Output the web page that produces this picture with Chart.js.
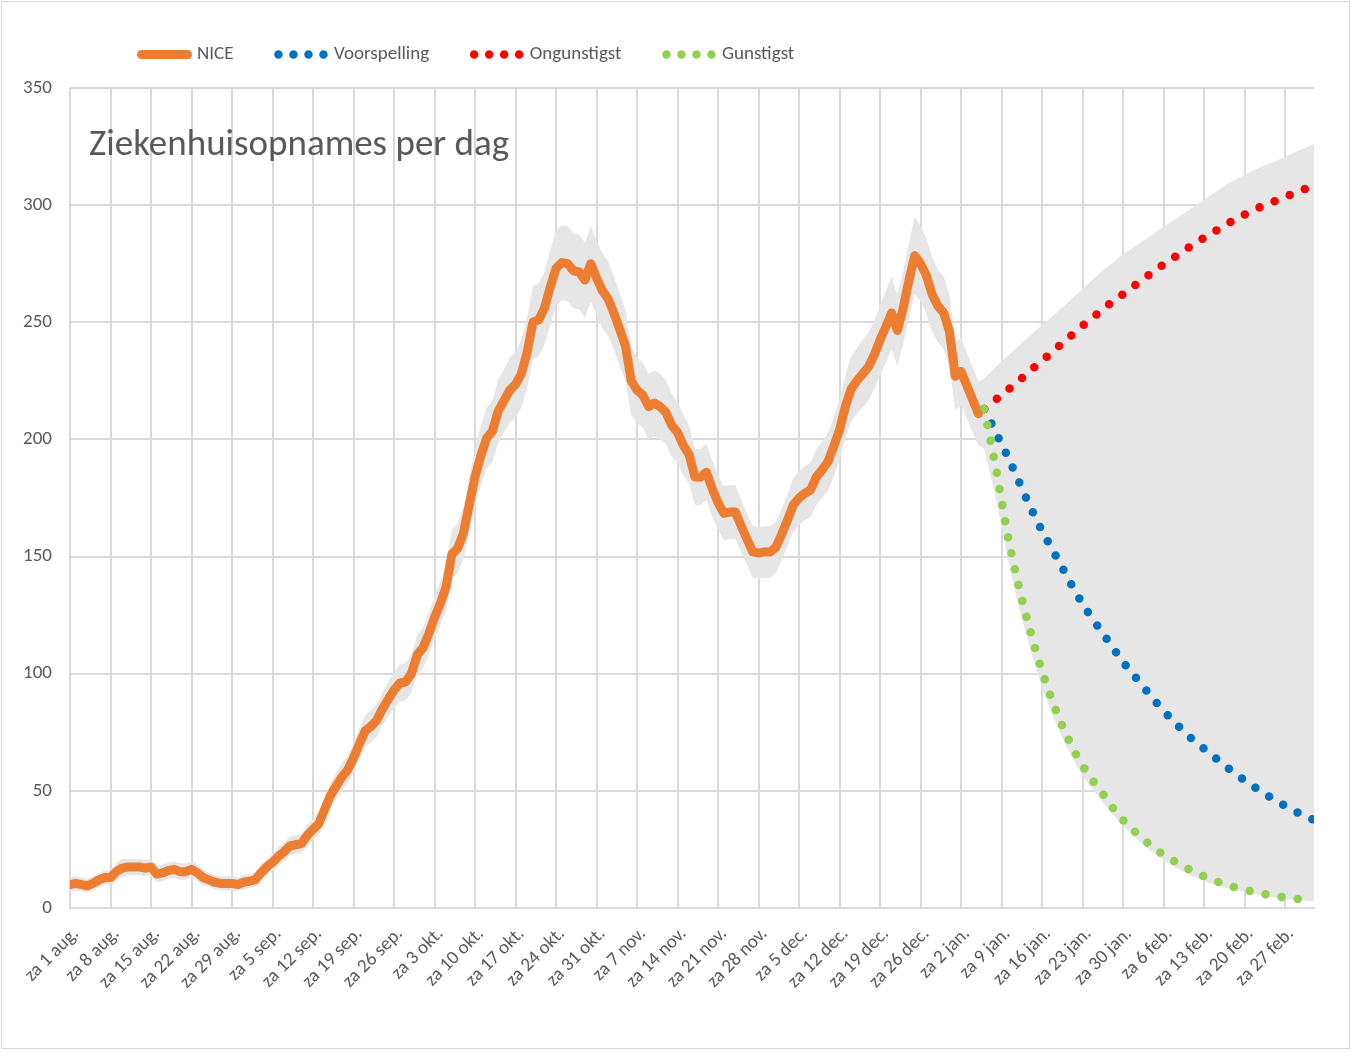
<!DOCTYPE html>
<html><head><meta charset="utf-8">
<script src="https://cdn.jsdelivr.net/npm/chart.js@4.4.0/dist/chart.umd.min.js"></script>
<style>
html,body{margin:0;padding:0;background:#fff;}
#wrap{position:absolute;left:0;top:0;width:1352px;height:1052px;}
#frame{position:absolute;left:1px;top:1px;width:1347px;height:1046px;border:1px solid #d9d9d9;pointer-events:none;}
</style></head><body>
<div id="wrap"><canvas id="c"></canvas></div><div id="frame"></div>
<script>
const chartTitle = 'Ziekenhuisopnames per dag';
const seriesNames = ['NICE', 'Voorspelling', 'Ongunstigst', 'Gunstigst'];
const weekLabels = ['za 1 aug.','za 8 aug.','za 15 aug.','za 22 aug.','za 29 aug.','za 5 sep.','za 12 sep.','za 19 sep.','za 26 sep.','za 3 okt.','za 10 okt.','za 17 okt.','za 24 okt.','za 31 okt.','za 7 nov.','za 14 nov.','za 21 nov.','za 28 nov.','za 5 dec.','za 12 dec.','za 19 dec.','za 26 dec.','za 2 jan.','za 9 jan.','za 16 jan.','za 23 jan.','za 30 jan.','za 6 feb.','za 13 feb.','za 20 feb.','za 27 feb.'];
const yTicks = [0, 50, 100, 150, 200, 250, 300, 350];

// NICE daily values, day 0 = za 1 aug.
const niceValues = [
10,10.5,10,9.5,10.5,12,13,13,15.5,17,
17.5,17.5,17.5,17,17.5,14.5,15,16,16.5,15.5,
15.5,16.5,15,13,12,11,10.5,10.5,10.5,10,
11,11.5,12,15,17.5,19.5,22,24,26.5,27,
27.5,31,33.5,36,42,48,52,56,59,64,
70,75.5,77.5,80,85,89,93,96,96.5,100,
108,111,117,124,130,137,151,153.5,160,172,
184,193,200.5,203.5,212,216.5,221,223.5,228,237,
250,251,256,265,273,275.5,275,272,271.5,268,
275,269,263.5,260,254,247,240,225,221,219,
214,215.5,214,211.5,206,203,197.5,193.5,184,184,
186,179,173,168.5,169,169,163,157.5,152,151.5,
152,152,154,159.5,165.5,172,175,177,178.5,184,
187,190.5,197,204,214,221.5,225,228,231,236,
242.5,248,254,246.5,256,268,278.5,275,270,262,
257,254,246,227,229,223,217,211
];
const niceBandUpper = [
13,13.5,13,12.5,13.5,15,16,16,19,21,
21,21,21,20.5,21,18,18.5,19.5,20,19,
19,20,18.5,16.5,15,14,13.5,13.5,13.5,13,
14,14.5,15,18.5,21,23,26,28,30.5,31,
31.5,35.5,38,41,47,53.5,57.5,62,65,70,
76.5,82,84.5,87,92,96.5,100.5,104,104.5,108,
116.5,119.5,126,133,139.5,147,161.5,164,171,183.5,
196,205.5,213.5,216.5,225.5,230,235,237.5,242.5,252,
265.5,266.5,271.5,281,289,291.5,291,288,287.5,284,
291,285,279.5,276,269.5,262.5,255,239.5,235,233,
228,229.5,228,225,219.5,216,210.5,206,196,196,
198,191,184.5,180,180.5,180.5,174,168.5,163,162.5,
163,163,165,170.5,176.5,183.5,186.5,188.5,190,196,
199,203,209.5,217,227.5,235.5,239,242.5,245.5,250.5,
257.5,263.5,269.5,261.5,271.5,284,295,291,286,278,
272.5,269.5,261.5,241.5,243.5,237,231,224.5
];
const niceBandLower = [
7,7.5,7,6.5,7.5,9,10,10,12,13,
14,14,14,13.5,14,11,11.5,12.5,13,12,
12,13,11.5,9.5,9,8,7.5,7.5,7.5,7,
8,8.5,9,11.5,14,16,18,20,22.5,23,
23.5,26.5,29,31,37,42.5,46.5,50,53,58,
63.5,69,70.5,73,78,81.5,85.5,88,88.5,92,
99.5,102.5,108,115,120.5,127,140.5,143,149,160.5,
172,180.5,187.5,190.5,198.5,203,207,209.5,213.5,222,
234.5,235.5,240.5,249,257,259.5,259,256,255.5,252,
259,253,247.5,244,238.5,231.5,225,210.5,207,205,
200,201.5,200,198,192.5,190,184.5,181,172,172,
174,167,161.5,157,157.5,157.5,152,146.5,141,140.5,
141,141,143,148.5,154.5,160.5,163.5,165.5,167,172,
175,178,184.5,191,200.5,207.5,211,213.5,216.5,221.5,
227.5,232.5,238.5,231.5,240.5,252,262,259,254,246,
241.5,238.5,230.5,212.5,214.5,209,203,197.5
];

// forecasts (day numbers since za 1 aug.)
const forecastDays   = [158,160,162,164,166,168,170,172,174,176,178,180,182,185,188,191,194,197,200,203,206,209,212,215];
const voorspelling   = [213,203,193,182,171,161,152,143,134,126,119,112,105,96,87,79,72,66,60,54.5,49.5,45,41,37.5];
const ongunstigst    = [213,217,221,225,229.5,233.5,238,242,246.5,250.5,254.5,258.5,262,267.5,273,278,283,287.5,292,296,299.5,302.5,305.5,308.5];
const gunstigst      = [213,188,160,137,118,101,87,75,65,57,50.5,43.5,37.5,30.5,24.5,19.8,15.8,12.5,9.8,7.8,6.2,4.9,3.9,3.2];
const bandUpperF     = [226,231,235.5,240,244.5,249,253,257.5,262,266.5,271,275,279,284,289,294,299,304,309,313,316.5,319.5,323,326];
const bandLowerF     = [196,175,150,128,110,94,81,70,60.5,53,46.5,40.5,35,28,22,17.3,13.5,10.6,8.4,6.7,5.3,4.2,3.4,2.9];

const FONT = 'Carlito, Lato, "Liberation Sans", sans-serif';
const TEXT = '#595959';
const GRID = '#d9d9d9';
const FS = 19;
const LEG_PAD = 45;

const toPts = (days, vals) => vals.map((v, i) => ({x: days ? days[i] : i, y: v}));
const bandHi = toPts(null, niceBandUpper).concat(toPts(forecastDays, bandUpperF));
const bandLo = toPts(null, niceBandLower).concat(toPts(forecastDays, bandLowerF));

const dotted = (label, vals, color, order) => ({
  label, data: toPts(forecastDays, vals), borderColor: color, backgroundColor: color,
  borderWidth: 8.5, borderDash: [0, 16.3], borderCapStyle: 'round', borderJoinStyle: 'round',
  pointRadius: 0, cubicInterpolationMode: 'monotone', tension: 0.4, fill: false, order
});

const titlePlugin = {
  id: 'innerTitle',
  afterDraw(chart) {
    const ctx = chart.ctx;
    ctx.save();
    ctx.font = '37px ' + FONT;
    ctx.fillStyle = TEXT;
    ctx.textBaseline = 'middle';
    ctx.textAlign = 'left';
    ctx.fillText(chartTitle, chart.chartArea.left + 19, chart.chartArea.top + 58);
    ctx.restore();
  }
};
const legendShift = {
  id: 'legendShift',
  afterLayout(chart) {
    const l = chart.legend;
    if (!l) return;
    l.left += 96.5; l.right += 96.5;
    const dy = (54.5 - LEG_PAD - FS / 2) - l.top;
    l.top += dy;
    l.bottom = l.top + 86;
    l.height = 86;
  }
};

new Chart(document.getElementById('c'), {
  type: 'line',
  data: {
    datasets: [
      { label: seriesNames[0], data: toPts(null, niceValues), borderColor: '#ED7D31', backgroundColor: '#ED7D31',
        borderWidth: 9, borderCapStyle: 'round', borderJoinStyle: 'round', pointRadius: 0, tension: 0, fill: false, order: 3 },
      dotted(seriesNames[1], voorspelling, '#0070C0', 2),
      dotted(seriesNames[2], ongunstigst, '#FF0000', 1),
      dotted(seriesNames[3], gunstigst, '#92D050', 0),
      { label: 'band-hi', data: bandHi, borderWidth: 0, pointRadius: 0, fill: '+1', backgroundColor: '#e6e6e6', borderColor: 'rgba(0,0,0,0)', tension: 0, order: 10 },
      { label: 'band-lo', data: bandLo, borderWidth: 0, pointRadius: 0, fill: false, backgroundColor: '#e6e6e6', borderColor: 'rgba(0,0,0,0)', tension: 0, order: 11 }
    ]
  },
  options: {
    responsive: true, maintainAspectRatio: false, devicePixelRatio: 1, animation: false, events: [],
    layout: { padding: { left: 0, right: 38, top: 28, bottom: 0 } },
    plugins: {
      tooltip: { enabled: false },
      legend: {
        position: 'top', align: 'start', maxHeight: 60,
        labels: {
          usePointStyle: true, pointStyle: 'line', pointStyleWidth: 46, padding: LEG_PAD,
          color: TEXT, font: { family: FONT, size: FS },
          generateLabels(chart) {
            return chart.data.datasets.slice(0, 4).map((ds, i) => ({
              text: ds.label, datasetIndex: i, hidden: false,
              fillStyle: ds.borderColor, strokeStyle: ds.borderColor, fontColor: TEXT,
              lineWidth: ds.borderWidth, lineDash: ds.borderDash ? [0, 15] : [], lineCap: ds.borderCapStyle,
              lineJoin: 'round', pointStyle: 'line'
            }));
          }
        }
      }
    },
    scales: {
      x: {
        type: 'linear', min: 0, max: 215, bounds: 'data',
        grid: { color: GRID, lineWidth: 2, drawTicks: false },
        border: { display: true, color: GRID, width: 2 },
        ticks: { stepSize: 7, includeBounds: false, autoSkip: false, maxRotation: 45, minRotation: 45, padding: 15, labelOffset: 6,
          color: TEXT, font: { family: FONT, size: FS },
          callback: (v) => weekLabels[Math.round(v / 7)] },
        afterFit: (s) => { s.height = 144; }
      },
      y: {
        type: 'linear', min: 0, max: 350,
        grid: { color: GRID, lineWidth: 2, drawTicks: false },
        border: { display: false },
        ticks: { stepSize: 50, padding: 18, color: TEXT, font: { family: FONT, size: FS },
          callback: (v) => yTicks.includes(v) ? String(v) : null },
        afterFit: (s) => { s.width = 70; }
      }
    }
  },
  plugins: [titlePlugin, legendShift]
});
</script></body></html>
